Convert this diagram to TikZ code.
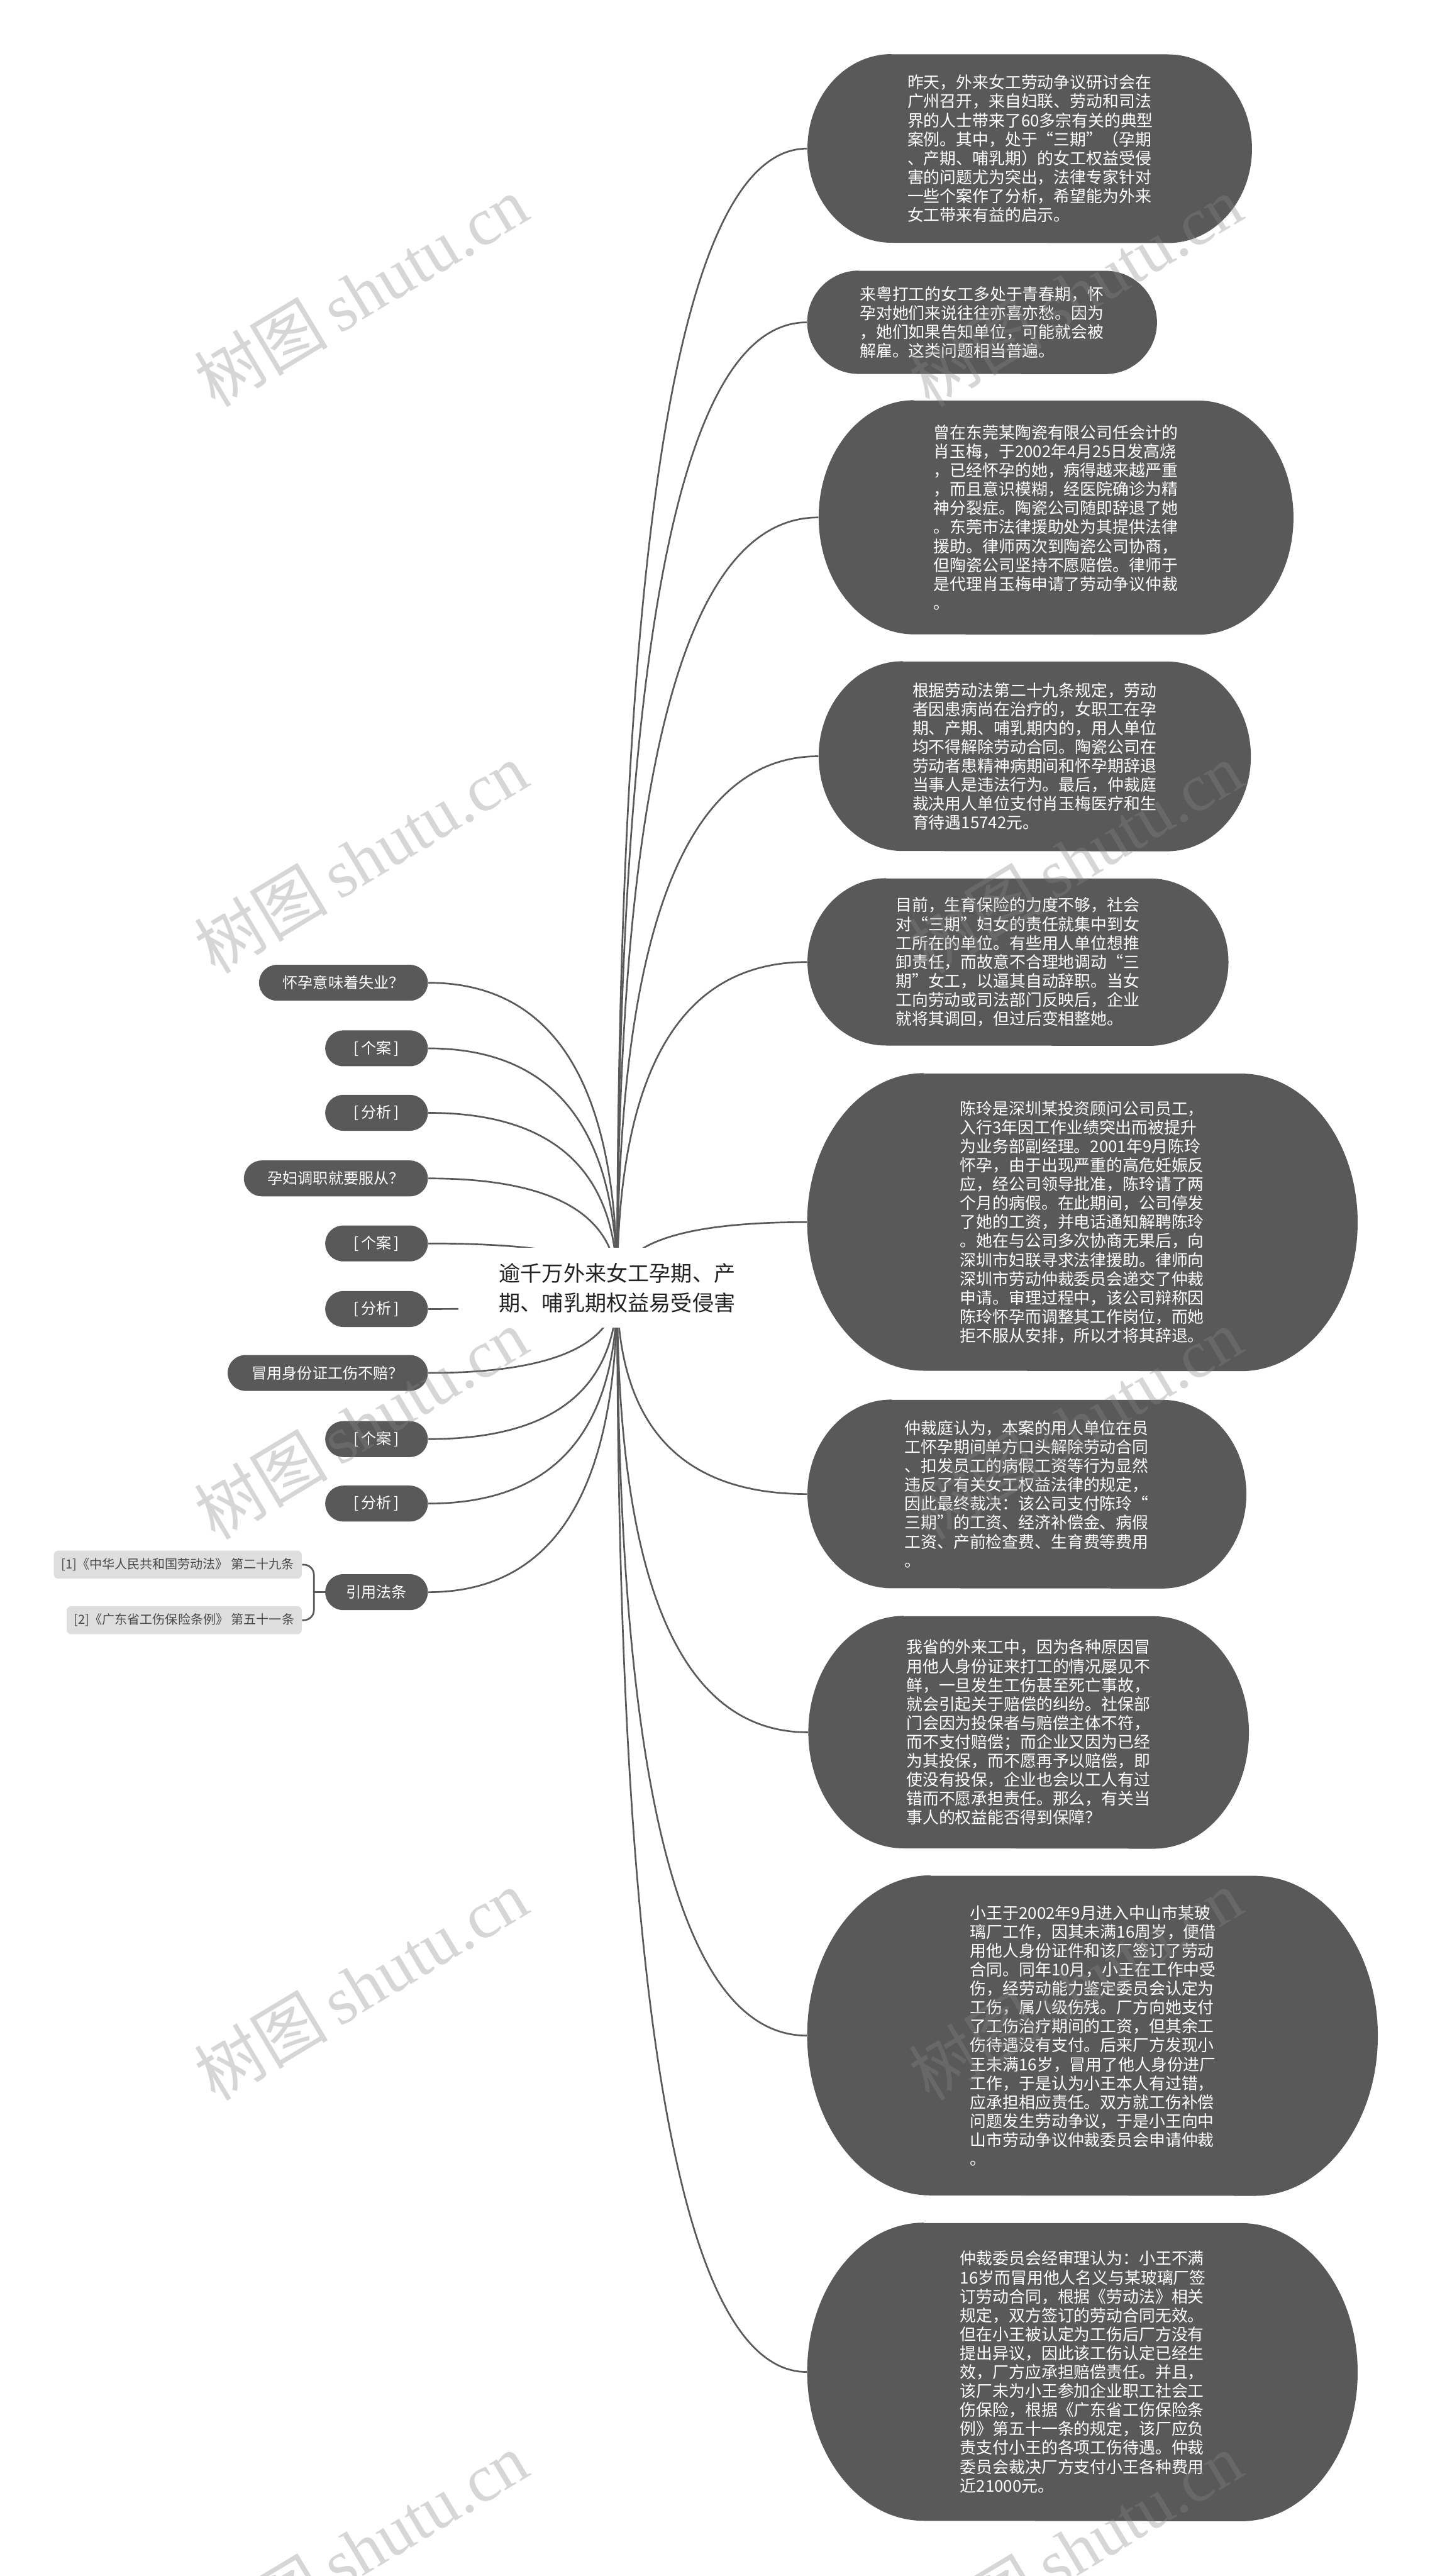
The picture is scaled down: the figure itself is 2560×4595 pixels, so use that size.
\documentclass[tikz,border=0pt]{standalone}
\usepackage{fontspec}
\setmainfont{Noto Sans CJK SC}
\newfontfamily\wmserif{Liberation Serif}
\usetikzlibrary{calc}
\pgfdeclarelayer{background}
\pgfsetlayers{background,main}
\definecolor{bubfill}{HTML}{595959}
\definecolor{linecol}{HTML}{595959}
\definecolor{subfill}{HTML}{DEDEDE}
\definecolor{subtext}{HTML}{4A4A4A}
\definecolor{wm}{HTML}{878787}
\definecolor{ctrtext}{HTML}{222222}
\tikzset{
 conn/.style={draw=linecol, line width=0.85pt},
 bubtext/.style={text=white, align=left, text width=4.36cm, font=\fontsize{8.25pt}{9.6pt}\selectfont, inner sep=0pt},
 pill/.style={fill=bubfill, text=white, rounded corners=0.32cm, minimum height=0.64cm, inner sep=0pt, font=\fontsize{7.7pt}{9pt}\selectfont, anchor=east},
 subnode/.style={fill=subfill, text=subtext, rounded corners=0.08cm, minimum height=0.5cm, inner sep=0pt, font=\fontsize{6.4pt}{8pt}\selectfont, anchor=east},
 ctrnode/.style={fill=white, text=ctrtext, align=center, font=\fontsize{10.9pt}{15pt}\selectfont, minimum width=5.66cm, minimum height=1.42cm, inner sep=0pt},
 wmark/.style={text=wm, text opacity=0.34, rotate=31, font=\fontsize{34pt}{40pt}\selectfont}
}
% name, cx, cy, w, h, rx, text
\newcommand\mybubble[7]{%
 \fill[bubfill] ({#2-#4/2+#6},{#3-#5/2}) -- ({#2+#4/2-#6},{#3-#5/2})
   arc[start angle=90,end angle=-90,x radius={#6*0.01cm},y radius={#5*0.005cm}]
   -- ({#2-#4/2+#6},{#3+#5/2})
   arc[start angle=270,end angle=90,x radius={#6*0.01cm},y radius={#5*0.005cm}] -- cycle;
 \node[bubtext, minimum width={#4*0.01cm}, minimum height={#5*0.01cm}] (#1) at (#2,#3) {#7};
}
\newcommand\linkto[1]{\draw[conn] (ctr.center) .. controls ($(ctr.center)!0.6667!(ctr.center|-#1)$) and ($(#1)!0.6667!(ctr.center|-#1)$) .. (#1);}

\begin{document}
\begin{tikzpicture}[x=0.01cm,y=-0.01cm]
\useasboundingbox (0,0) rectangle (2560,4595);
\begin{pgfonlayer}{background}
\fill[white] (0,0) rectangle (2560,4595);
\end{pgfonlayer}

% centre
\node[ctrnode] (ctr) at (1101,2297) {逾千万外来女工孕期、产\\期、哺乳期权益易受侵害};

% right bubbles
\mybubble{R1}{1837}{265}{793}{336}{150}{昨天，外来女工劳动争议研讨会在\\广州召开，来自妇联、劳动和司法\\界的人士带来了60多宗有关的典型\\案例。其中，处于“三期”（孕期\\、产期、哺乳期）的女工权益受侵\\害的问题尤为突出，法律专家针对\\一些个案作了分析，希望能为外来\\女工带来有益的启示。}
\mybubble{R2}{1752}{575}{624}{184}{92}{来粤打工的女工多处于青春期，怀\\孕对她们来说往往亦喜亦愁。因为\\，她们如果告知单位，可能就会被\\解雇。这类问题相当普遍。}
\mybubble{R3}{1884}{923}{847}{417}{170}{曾在东莞某陶瓷有限公司任会计的\\肖玉梅，于2002年4月25日发高烧\\，已经怀孕的她，病得越来越严重\\，而且意识模糊，经医院确诊为精\\神分裂症。陶瓷公司随即辞退了她\\。东莞市法律援助处为其提供法律\\援助。律师两次到陶瓷公司协商，\\但陶瓷公司坚持不愿赔偿。律师于\\是代理肖玉梅申请了劳动争议仲裁\\。}
\mybubble{R4}{1846}{1349}{771}{338}{150}{根据劳动法第二十九条规定，劳动\\者因患病尚在治疗的，女职工在孕\\期、产期、哺乳期内的，用人单位\\均不得解除劳动合同。陶瓷公司在\\劳动者患精神病期间和怀孕期辞退\\当事人是违法行为。最后，仲裁庭\\裁决用人单位支付肖玉梅医疗和生\\育待遇15742元。}
\mybubble{R5}{1816}{1716}{751}{298}{140}{目前，生育保险的力度不够，社会\\对“三期”妇女的责任就集中到女\\工所在的单位。有些用人单位想推\\卸责任，而故意不合理地调动“三\\期”女工，以逼其自动辞职。当女\\工向劳动或司法部门反映后，企业\\就将其调回，但过后变相整她。}
\mybubble{R6}{1931}{2180}{982}{530}{208}{陈玲是深圳某投资顾问公司员工，\\入行3年因工作业绩突出而被提升\\为业务部副经理。2001年9月陈玲\\怀孕，由于出现严重的高危妊娠反\\应，经公司领导批准，陈玲请了两\\个月的病假。在此期间，公司停发\\了她的工资，并电话通知解聘陈玲\\。她在与公司多次协商无果后，向\\深圳市妇联寻求法律援助。律师向\\深圳市劳动仲裁委员会递交了仲裁\\申请。审理过程中，该公司辩称因\\陈玲怀孕而调整其工作岗位，而她\\拒不服从安排，所以才将其辞退。}
\mybubble{R7}{1832}{2665}{783}{336}{150}{仲裁庭认为，本案的用人单位在员\\工怀孕期间单方口头解除劳动合同\\、扣发员工的病假工资等行为显然\\违反了有关女工权益法律的规定，\\因此最终裁决：该公司支付陈玲“\\三期”的工资、经济补偿金、病假\\工资、产前检查费、生育费等费用\\。}
\mybubble{R8}{1835}{3090}{786}{414}{170}{我省的外来工中，因为各种原因冒\\用他人身份证来打工的情况屡见不\\鲜，一旦发生工伤甚至死亡事故，\\就会引起关于赔偿的纠纷。社保部\\门会因为投保者与赔偿主体不符，\\而不支付赔偿；而企业又因为已经\\为其投保，而不愿再予以赔偿，即\\使没有投保，企业也会以工人有过\\错而不愿承担责任。那么，有关当\\事人的权益能否得到保障？}
\mybubble{R9}{1949}{3631}{1018}{570}{220}{小王于2002年9月进入中山市某玻\\璃厂工作，因其未满16周岁，便借\\用他人身份证件和该厂签订了劳动\\合同。同年10月，小王在工作中受\\伤，经劳动能力鉴定委员会认定为\\工伤，属八级伤残。厂方向她支付\\了工伤治疗期间的工资，但其余工\\伤待遇没有支付。后来厂方发现小\\王未满16岁，冒用了他人身份进厂\\工作，于是认为小王本人有过错，\\应承担相应责任。双方就工伤补偿\\问题发生劳动争议，于是小王向中\\山市劳动争议仲裁委员会申请仲裁\\。}
\mybubble{R10}{1931}{4231}{982}{531}{208}{仲裁委员会经审理认为：小王不满\\16岁而冒用他人名义与某玻璃厂签\\订劳动合同，根据《劳动法》相关\\规定，双方签订的劳动合同无效。\\但在小王被认定为工伤后厂方没有\\提出异议，因此该工伤认定已经生\\效，厂方应承担赔偿责任。并且，\\该厂未为小王参加企业职工社会工\\伤保险，根据《广东省工伤保险条\\例》第五十一条的规定，该厂应负\\责支付小王的各项工伤待遇。仲裁\\委员会裁决厂方支付小王各种费用\\近21000元。}

% left pills
\node[pill, minimum width=3.01cm] (L1) at (764,1753) {怀孕意味着失业？};
\node[pill, minimum width=1.83cm] (L2) at (764,1870) {[\,个案\,]};
\node[pill, minimum width=1.83cm] (L3) at (764,1985) {[\,分析\,]};
\node[pill, minimum width=3.28cm] (L4) at (764,2102) {孕妇调职就要服从？};
\node[pill, minimum width=1.83cm] (L5) at (764,2218) {[\,个案\,]};
\node[pill, minimum width=1.83cm] (L6) at (764,2335) {[\,分析\,]};
\node[pill, minimum width=3.57cm] (L7) at (764,2449) {冒用身份证工伤不赔？};
\node[pill, minimum width=1.83cm] (L8) at (764,2567) {[\,个案\,]};
\node[pill, minimum width=1.83cm] (L9) at (764,2682) {[\,分析\,]};
\node[pill, minimum width=1.83cm] (L10) at (764,2840) {引用法条};

% references
\node[subnode, minimum width=4.42cm] (S1) at (539,2791) {[1]《中华人民共和国劳动法》 第二十九条};
\node[subnode, minimum width=4.19cm] (S2) at (539,2890) {[2]《广东省工伤保险条例》 第五十一条};
\coordinate (br) at (560,2840);

\begin{pgfonlayer}{background}
\foreach \n in {R1,R2,R3,R4,R5,R6,R7,R8,R9,R10}{\linkto{\n.west}}
\foreach \n in {L1,L2,L3,L4,L5,L6,L7,L8,L9,L10}{\linkto{\n.east}}
\end{pgfonlayer}
\draw[conn, rounded corners=0.18cm] (S1.east) -| (br) |- (S2.east);
\draw[conn] (br) -- (L10.west);

% watermarks
\foreach \i/\x/\y in {1/644/520,2/644/1530,3/644/2540,4/644/3540,5/644/4545,6/1918/520,7/1918/1530,8/1918/2540,9/1918/3540,10/1918/4545}{
 \node[wmark] (wm\i) at (\x,\y) {树图\,{\wmserif shutu.cn}};
}
\end{tikzpicture}
\end{document}
